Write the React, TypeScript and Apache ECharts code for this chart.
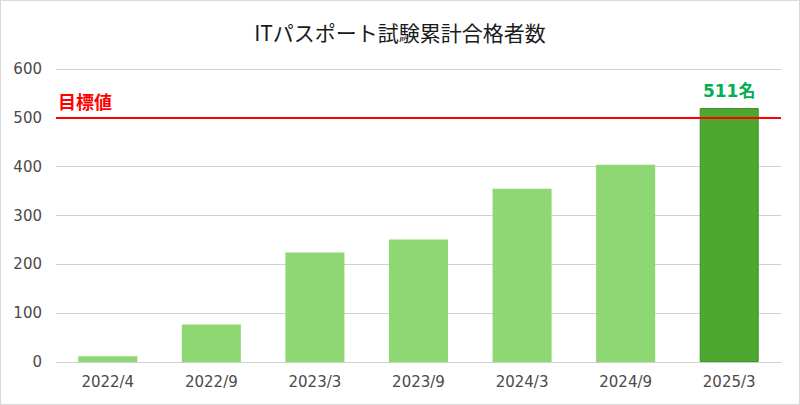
import { useEffect, useRef } from 'react'
import * as echarts from 'echarts'

const categories = ['2022/4', '2022/9', '2023/3', '2023/9', '2024/3', '2024/9', '2025/3']
const passCounts = [12, 77, 224, 251, 355, 404, 520]
const yTicks = [0, 100, 200, 300, 400, 500, 600]
const targetValue = 500
const targetLabel = '目標値'
const latestLabel = '511名'

const font = '"DejaVu Sans", "Noto Sans CJK JP", sans-serif'
const cjkFont = '"Noto Sans CJK JP", sans-serif'

export const App = () => {
  const chartRef = useRef(null)

  useEffect(() => {
    document.body.style.margin = '0'
    const chart = echarts.init(chartRef.current, null, { renderer: 'svg' })
    const last = passCounts.length - 1

    const option = {
      animation: false,
      textStyle: { fontFamily: font },
      title: {
        text: 'ITパスポート試験累計合格者数',
        left: 'center',
        top: 15,
        textStyle: { fontSize: 21, fontWeight: 'normal', color: '#1a1a1a', fontFamily: cjkFont }
      },
      grid: { left: 55, right: 18, top: 68, bottom: 42 },
      xAxis: {
        type: 'category',
        data: categories,
        axisLine: { lineStyle: { color: '#d0d0d0' } },
        axisTick: { show: false },
        axisLabel: { color: '#4a4a4a', fontSize: 15, margin: 12, fontFamily: font }
      },
      yAxis: {
        type: 'value',
        min: yTicks[0],
        max: yTicks[yTicks.length - 1],
        interval: 100,
        axisLine: { show: false },
        axisTick: { show: false },
        axisLabel: { color: '#4a4a4a', fontSize: 15, margin: 14, fontFamily: font },
        splitLine: { lineStyle: { color: '#d0d0d0' } }
      },
      series: [
        {
          type: 'bar',
          barWidth: '57%',
          data: passCounts.map((v, i) =>
            i === last
              ? {
                  value: v,
                  itemStyle: { color: '#4ea72e', borderColor: '#3f8f24', borderWidth: 1 },
                  label: {
                    show: true,
                    position: 'top',
                    distance: 9,
                    formatter: latestLabel,
                    color: '#00b050',
                    fontSize: 17,
                    fontWeight: 'bold',
                    fontFamily: font
                  }
                }
              : { value: v, itemStyle: { color: '#8ed873' } }
          ),
          markLine: {
            silent: true,
            symbol: 'none',
            data: [{ yAxis: targetValue }],
            lineStyle: { color: '#ff0000', width: 2, type: 'solid' },
            label: {
              show: true,
              position: 'insideStartTop',
              formatter: targetLabel,
              color: '#ff0000',
              fontSize: 18,
              fontWeight: 'bold',
              fontFamily: cjkFont,
              distance: [2, 8]
            }
          }
        }
      ]
    }

    chart.setOption(option)

    return () => {
      chart.dispose()
    }
  }, [])

  return (
    <div
      style={{
        width: 800,
        height: 405,
        boxSizing: 'border-box',
        border: '1px solid #d9d9d9',
        background: '#fff'
      }}
    >
      <div ref={chartRef} style={{ width: '798px', height: '403px' }} />
    </div>
  )
}

export default App
